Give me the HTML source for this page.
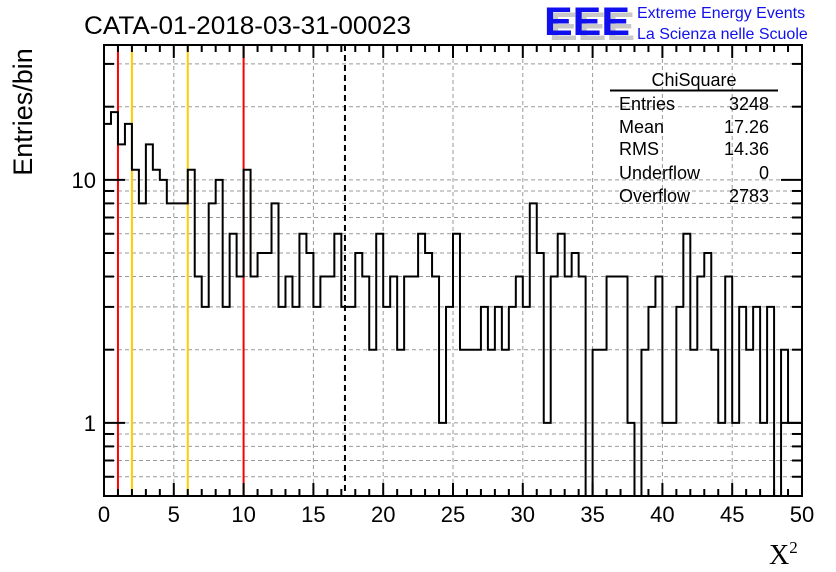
<!DOCTYPE html>
<html><head><meta charset="utf-8"><style>
html,body{margin:0;padding:0;background:#fff;}
svg{display:block;font-family:"Liberation Sans",sans-serif;}
</style></head><body>
<svg id="chart" width="836" height="572" viewBox="0 0 836 572">
<rect x="0" y="0" width="836" height="572" fill="#fff"/>
<g id="grid"></g>
<g id="markers"></g>
<g id="hist"></g>
<g id="axes"></g>
<text x="84" y="34" font-size="25" textLength="327" lengthAdjust="spacingAndGlyphs">CATA-01-2018-03-31-00023</text>
<g>
<text x="549" y="40" font-size="40" font-weight="bold" fill="#c8c8c8" textLength="86" lengthAdjust="spacingAndGlyphs">EEE</text>
<text x="544" y="35" font-size="40" font-weight="bold" fill="#1010ee" textLength="86" lengthAdjust="spacingAndGlyphs">EEE</text>
<text x="637" y="18" font-size="16" fill="#1010ee">Extreme Energy Events</text>
<text x="637" y="39" font-size="16" fill="#1010ee">La Scienza nelle Scuole</text>
</g>
<g font-size="18">
<text x="694" y="86" text-anchor="middle">ChiSquare</text>
<line x1="610" y1="90.5" x2="778" y2="90.5" stroke="#000" stroke-width="2"/>
<text x="619" y="110">Entries</text><text x="769" y="110" text-anchor="end">3248</text>
<text x="619" y="133">Mean</text><text x="769" y="133" text-anchor="end">17.26</text>
<text x="619" y="155">RMS</text><text x="769" y="155" text-anchor="end">14.36</text>
<text x="619" y="179">Underflow</text><text x="769" y="179" text-anchor="end">0</text>
<text x="619" y="202">Overflow</text><text x="769" y="202" text-anchor="end">2783</text>
</g>
<text transform="translate(32,112) rotate(-90)" font-size="27" text-anchor="middle">Entries/bin</text>
<text x="769" y="564" font-size="28" font-family="Liberation Serif,serif">X<tspan font-size="17" dy="-11">2</tspan></text>
</svg>
<script>
const counts = [17,19,14,17,11,8,14,11,10,8,8,8,11,4,3,8,10,3,6,4,11,4,5,5,8,3,4,3,6,5,3,4,4,6,3,3,5,4,2,6,3,4,2,4,4,6,5,4,1,3,6,2,2,2,3,2,3,2,3,4,3,8,5,1,4,6,4,5,4,0,2,2,4,4,4,1,0,2,3,4,1,1,3,6,2,4,5,2,1,4,1,3,2,3,1,3,0,2,1,1];
const binWidth = 0.5;
const xTicks = [0,5,10,15,20,25,30,35,40,45,50];
const yMajorTicks = [1,10];
const yMinorTicks = [0.5,0.6,0.7,0.8,0.9,2,3,4,5,6,7,8,9,20,30];
const refRed = [1,10];
const refYellow = [2,6];
const meanValue = 17.26;

const L=104,R=802,T=45,B=496;
const xMin=0,xMax=50,yMin=0.5,decade=243;
const X=v=>L+(v-xMin)/(xMax-xMin)*(R-L);
const Y=v=>B-(Math.log10(v)-Math.log10(yMin))*decade;
const NS='http://www.w3.org/2000/svg';
function mk(tag,attrs,parent){const e=document.createElementNS(NS,tag);for(const k in attrs)e.setAttribute(k,attrs[k]);parent.appendChild(e);return e;}
const grid=document.getElementById('grid'),axes=document.getElementById('axes'),hist=document.getElementById('hist'),markers=document.getElementById('markers');

xTicks.slice(1,-1).forEach(v=>{const l=mk('line',{x1:X(v),x2:X(v),y1:T,y2:B,stroke:'#999','stroke-width':1,'stroke-dasharray':'4,3'},grid);

});
yMajorTicks.concat(yMinorTicks).forEach(v=>{if(Y(v)<=T+1||Y(v)>=B-1)return;const l=mk('line',{x1:L,x2:R,y1:Y(v),y2:Y(v),stroke:'#999','stroke-width':1,'stroke-dasharray':'4,3'},grid);

});

let d='';
counts.forEach((c,i)=>{const x0=X(i*binWidth),x1=X((i+1)*binWidth);const v=c>0?Math.max(c,yMin):yMin;const yy=Math.max(Y(v),T);
if(i===0)d+=`M${x0},${yy}`;else d+=`L${x0},${yy}`;d+=`L${x1},${yy}`;});
const hp=mk('path',{d:d,fill:'none',stroke:'#000','stroke-width':2},hist);



refRed.forEach(v=>{const l=mk('line',{x1:X(v),x2:X(v),y1:T,y2:B,stroke:'#f00','stroke-width':2},markers);

});
refYellow.forEach(v=>{const l=mk('line',{x1:X(v),x2:X(v),y1:T,y2:B,stroke:'#fc0','stroke-width':2},markers);

});
const ml=mk('line',{x1:X(meanValue),x2:X(meanValue),y1:T,y2:B,stroke:'#000','stroke-width':2,'stroke-dasharray':'6,4'},hist);



const fr=mk('rect',{x:L,y:T,width:R-L,height:B-T,fill:'none',stroke:'#000','stroke-width':2},axes);


for(let v=xMin+1;v<xMax;v++){const len=v%5===0?13:7;
mk('line',{x1:X(v),x2:X(v),y1:B,y2:B-len,stroke:'#000','stroke-width':2},axes);
mk('line',{x1:X(v),x2:X(v),y1:T,y2:T+len,stroke:'#000','stroke-width':2},axes);}
xTicks.forEach(v=>{const t=mk('text',{x:X(v),y:522,'font-size':22,'text-anchor':'middle'},axes);t.textContent=v;

});
yMinorTicks.forEach(v=>{const y=Y(v);if(y<=T+1||y>=B-1)return;
mk('line',{x1:L,x2:L+10,y1:y,y2:y,stroke:'#000','stroke-width':2},axes);
mk('line',{x1:R,x2:R-10,y1:y,y2:y,stroke:'#000','stroke-width':2},axes);});
yMajorTicks.forEach(v=>{const y=Y(v);
mk('line',{x1:L,x2:L+21,y1:y,y2:y,stroke:'#000','stroke-width':2},axes);
mk('line',{x1:R,x2:R-21,y1:y,y2:y,stroke:'#000','stroke-width':2},axes);
const t=mk('text',{x:96,y:y+8,'font-size':22,'text-anchor':'end'},axes);t.textContent=v;

});
</script>
</body></html>
